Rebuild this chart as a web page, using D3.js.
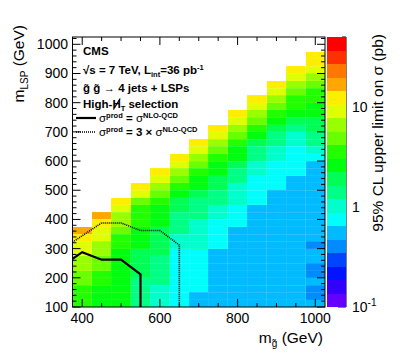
<!DOCTYPE html>
<html><head><meta charset="utf-8">
<script src="https://cdn.jsdelivr.net/npm/d3@7/dist/d3.min.js"></script>
<style>
body{margin:0;background:#fff}
svg{display:block}
text{font-family:"Liberation Sans",Arial,Helvetica,sans-serif;fill:#000}
</style></head>
<body><svg id="c" width="407" height="358"></svg>
<script>
// ---------------- data ----------------
const gluinoMasses = [400,450,500,550,600,650,700,750,800,850,900,950,1000];
const lspFirst = 100, lspStep = 25, gluinoStep = 50;
// 95% CL upper limits (pb), per gluino column, from LSP = 100 GeV upward
const lim400  = [3.6,3.6,3.6,4.9,4.9,6.6,6.6,9,9,12,17];
const lim450  = [2.6,2.6,2.6,3.6,3.6,4.9,4.9,6.6,6.6,9,9,12,17];
const lim500  = [2.6,2.6,2.6,2.6,2.6,2.6,2.6,2.6,3.6,3.6,4.9,6.6,6.6,9,12];
const lim550  = [1.4,1.4,1.4,1.4,1.9,1.9,1.9,1.9,2.6,2.6,2.6,3.6,3.6,3.6,4.9,9,12];
const lim600  = [1.0,1.0,1.0,1.4,1.4,1.4,1.4,1.9,1.9,1.9,1.9,2.6,2.6,2.6,3.6,4.9,6.6,9,12];
const lim650  = [0.75,0.75,0.75,0.75,0.75,0.75,0.75,0.75,1.0,1.0,1.4,1.4,1.4,1.9,1.9,2.6,3.6,4.9,6.6,9,12];
const lim700  = [0.55,0.55,0.75,0.75,0.75,0.75,0.75,0.75,1.0,1.0,1.0,1.0,1.4,1.4,1.4,1.9,2.6,2.6,3.6,4.9,6.6,9,12];
const lim750  = [0.55,0.55,0.55,0.55,0.55,0.55,0.55,0.55,0.75,0.75,0.75,0.75,1.0,1.0,1.4,1.4,1.9,1.9,2.6,2.6,3.6,4.9,6.6,9,12];
const lim800  = [0.55,0.55,0.55,0.55,0.55,0.55,0.55,0.55,0.55,0.55,0.55,0.75,0.75,0.75,1.0,1.0,1.0,1.4,1.4,1.9,2.6,2.6,3.6,4.9,6.6,9,12];
const lim850  = [0.55,0.55,0.55,0.55,0.55,0.55,0.55,0.55,0.55,0.55,0.55,0.55,0.55,0.55,0.75,0.75,0.75,0.75,1.0,1.0,1.4,1.4,1.9,2.6,3.6,4.9,6.6,9,12];
const lim900  = [0.55,0.55,0.55,0.55,0.55,0.55,0.55,0.55,0.55,0.55,0.55,0.55,0.55,0.55,0.55,0.55,0.75,0.75,0.75,0.75,1.0,1.0,1.4,1.4,1.9,2.6,3.6,4.9,6.6,9,12];
const lim950  = [0.55,0.55,0.55,0.55,0.55,0.55,0.55,0.55,0.55,0.55,0.55,0.55,0.55,0.55,0.55,0.55,0.55,0.55,0.75,0.75,0.75,0.75,1.0,1.0,1.4,1.9,2.6,3.6,3.6,4.9,6.6,9,12];
const lim1000 = [0.55,0.4,0.4,0.55,0.4,0.4,0.55,0.55,0.4,0.55,0.55,0.55,0.55,0.55,0.55,0.55,0.55,0.55,0.55,0.55,0.75,1.0,1.4,1.4,1.9,1.9,2.6,2.6,3.6,3.6,4.9,6.6,9,12,12];
const limitColumns = [lim400,lim450,lim500,lim550,lim600,lim650,lim700,lim750,lim800,lim850,lim900,lim950,lim1000];

// exclusion contours (m_gluino, m_LSP)
const nloContourX  = [375,400,450,500,550,550];
const nloContourY  = [265,288,262,262,212,100];
const nlo3ContourX = [375,450,500,550,600,650,650];
const nlo3ContourY = [322,388,388,362,362,312,100];

const xTickValues = [400,600,800,1000];
const yTickValues = [100,200,300,400,500,600,700,800,900,1000];
const zTickValues = [0.1,1,10];

// ---------------- drawing ----------------
const svg = d3.select("#c");
const L=72.5, R=325, T=37, B=307;
const x = d3.scaleLinear().domain([375,1025]).range([L,R]);
const y = d3.scaleLinear().domain([100,1025]).range([B,T]);
const zMin=0.1, zMax=50, nBands=20;
const zBand = d3.scaleLog().domain([zMin,zMax]).range([0,nBands]);
const bandHue = k => { const idx=Math.floor((k+0.99)*50/nBands); return 280-(idx+1)*5.6; };
const bandColor = k => d3.hsl(bandHue(k),1,0.5).formatHex();
const color = v => bandColor(Math.max(0,Math.min(nBands-1,Math.floor(zBand(v)))));

// cells
const cells=[];
gluinoMasses.forEach((mg,i)=>limitColumns[i].forEach((v,j)=>cells.push({mg,ml:lspFirst+j*lspStep,v})));
svg.append("g").attr("shape-rendering","crispEdges").selectAll("rect").data(cells).join("rect")
  .attr("x",d=>x(d.mg-gluinoStep/2)).attr("width",d=>x(d.mg+gluinoStep/2)-x(d.mg-gluinoStep/2))
  .attr("y",d=>y(d.ml+lspStep)).attr("height",d=>y(d.ml)-y(d.ml+lspStep))
  .attr("fill",d=>color(d.v))
  .attr("stroke","#fff").attr("stroke-opacity",0.12).attr("stroke-width",0.6);

// contours
const line = d3.line().x(d=>x(d[0])).y(d=>y(d[1]));
svg.append("path").attr("d",line(nloContourX.map((v,i)=>[v,nloContourY[i]])))
  .attr("fill","none").attr("stroke","#000").attr("stroke-width",2.2);
svg.append("path").attr("d",line(nlo3ContourX.map((v,i)=>[v,nlo3ContourY[i]])))
  .attr("fill","none").attr("stroke","#000").attr("stroke-width",1.6).attr("stroke-dasharray","1,1");

// frame + ticks
const ax = svg.append("g").attr("stroke","#000").attr("stroke-width",1);
ax.append("rect").attr("x",L).attr("y",T).attr("width",R-L).attr("height",B-T).attr("fill","none");
d3.range(400,1025,50).forEach(v=>{
  const len = xTickValues.includes(v)?8:4;
  ax.append("line").attr("x1",x(v)).attr("x2",x(v)).attr("y1",B).attr("y2",B-len);
  ax.append("line").attr("x1",x(v)).attr("x2",x(v)).attr("y1",T).attr("y2",T+len);
});
d3.range(100,1025,20).forEach(v=>{
  const len = (v%100===0)?8:4;
  ax.append("line").attr("y1",y(v)).attr("y2",y(v)).attr("x1",L).attr("x2",L+len);
  ax.append("line").attr("y1",y(v)).attr("y2",y(v)).attr("x1",R).attr("x2",R-len);
});
svg.append("g").selectAll("text").data(xTickValues).join("text")
  .attr("x",d=>x(d)).attr("y",323).attr("text-anchor","middle").attr("font-size",14).text(d=>d);
svg.append("g").selectAll("text").data(yTickValues).join("text")
  .attr("x",68).attr("y",d=>y(d)+5).attr("text-anchor","end").attr("font-size",14).text(d=>d);

// axis titles
const xt = svg.append("text").attr("x",323).attr("y",343).attr("text-anchor","end").attr("font-size",15.5);
xt.append("tspan").text("m");
xt.append("tspan").attr("font-size",10).attr("dy",4).text("g\u0303");
xt.append("tspan").attr("dy",-4).text(" (GeV)");
const yt = svg.append("text").attr("transform","translate(24,25) rotate(-90)").attr("text-anchor","end").attr("font-size",15.5);
yt.append("tspan").text("m");
yt.append("tspan").attr("font-size",10).attr("dy",4).text("LSP");
yt.append("tspan").attr("dy",-4).text(" (GeV)");

// colour bar
const CBL=327.3, CBR=346;
const zc = d3.scaleLog().domain([zMin,zMax]).range([B,T]);
svg.append("g").attr("shape-rendering","crispEdges").selectAll("rect").data(d3.range(nBands)).join("rect")
  .attr("x",CBL).attr("width",CBR-CBL)
  .attr("y",k=>zc(zBand.invert(k+1))).attr("height",k=>zc(zBand.invert(k))-zc(zBand.invert(k+1)))
  .attr("fill",k=>bandColor(k));
const zMinor=[0.2,0.3,0.4,0.5,0.6,0.7,0.8,0.9,2,3,4,5,6,7,8,9,20,30,40,50];
zMinor.concat(zTickValues).forEach(v=>{
  const len = zTickValues.includes(v)?8:4;
  ax.append("line").attr("x1",CBR).attr("x2",CBR-len).attr("y1",zc(v)).attr("y2",zc(v));
});
ax.append("line").attr("x1",CBR).attr("x2",CBR).attr("y1",T).attr("y2",B);
const zl = svg.append("g").attr("font-size",14);
zl.append("text").attr("x",352).attr("y",zc(10)+5).text("10");
zl.append("text").attr("x",352).attr("y",zc(1)+5).text("1");
const zl3 = zl.append("text").attr("x",352).attr("y",zc(0.1)+5);
zl3.append("tspan").text("10");
zl3.append("tspan").attr("font-size",10).attr("dy",-6).text("-1");
svg.append("text").attr("transform","translate(383,34) rotate(-90)").attr("text-anchor","end").attr("font-size",15.5)
  .text("95% CL upper limit on \u03c3 (pb)");

// legend text
const lg = svg.append("g").attr("font-weight","bold").attr("font-size",11.5);
lg.append("text").attr("x",83).attr("y",55).text("CMS");
const t2 = lg.append("text").attr("x",83).attr("y",74);
t2.append("tspan").text("\u221As = 7 TeV, L");
t2.append("tspan").attr("font-size",7.5).attr("dy",2.5).text("int");
t2.append("tspan").attr("dy",-2.5).text("=36 pb");
t2.append("tspan").attr("font-size",7.5).attr("dy",-4).text("-1");
lg.append("text").attr("x",83).attr("y",92).text("g\u0303 g\u0303 \u2192 4 jets + LSPs");
const t4 = lg.append("text").attr("x",83).attr("y",108);
t4.append("tspan").text("High-H");
t4.append("tspan").attr("font-size",7.5).attr("dy",2.5).text("T");
t4.append("tspan").attr("dy",-2.5).text(" selection");
const hx = t4.node().getExtentOfChar(5);
svg.append("line").attr("x1",hx.x+1).attr("x2",hx.x+hx.width-0.5).attr("y1",109.5).attr("y2",98.5)
  .attr("stroke","#000").attr("stroke-width",1.3);
function sigmaLine(yy, rhs){
  const t = lg.append("text").attr("x",99).attr("y",yy);
  t.append("tspan").attr("font-weight","normal").text("\u03c3");
  t.append("tspan").attr("font-size",7.5).attr("dy",-4).text("prod");
  t.append("tspan").attr("dy",4).text(" = ");
  t.append("tspan").text(rhs);
  t.append("tspan").attr("font-weight","normal").text("\u03c3");
  t.append("tspan").attr("font-size",7.5).attr("dy",-4).text("NLO-QCD");
}
sigmaLine(122,"");
sigmaLine(136,"3 \u00d7 ");
svg.append("line").attr("x1",76).attr("x2",96).attr("y1",118).attr("y2",118).attr("stroke","#000").attr("stroke-width",2.2);
svg.append("line").attr("x1",76).attr("x2",96).attr("y1",132).attr("y2",132).attr("stroke","#000").attr("stroke-width",1.6).attr("stroke-dasharray","1,1");
</script></body></html>
